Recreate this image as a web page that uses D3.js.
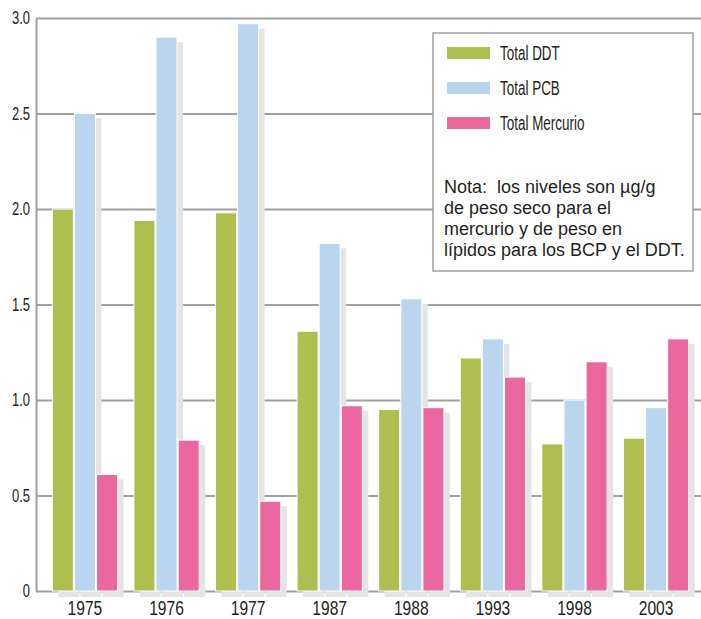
<!DOCTYPE html>
<html>
<head>
<meta charset="utf-8">
<script src="https://cdn.jsdelivr.net/npm/d3@7"></script>
<style>
  body { margin: 0; background: #fff; }
  .narrow { font-family: "Liberation Sans", Arial, sans-serif; fill: #231f20; }
  .note { font-family: "Liberation Sans", Arial, sans-serif; font-size: 18px; fill: #231f20; white-space: pre; }
</style>
</head>
<body>
<div class="canvas"></div>
<script>
const years = ['1975', '1976', '1977', '1987', '1988', '1993', '1998', '2003'];
const series = ['Total DDT', 'Total PCB', 'Total Mercurio'];
const ddt = [2.0, 1.94, 1.98, 1.36, 0.95, 1.22, 0.77, 0.80];
const pcb = [2.5, 2.9, 2.97, 1.82, 1.53, 1.32, 1.0, 0.96];
const mercurio = [0.61, 0.79, 0.47, 0.97, 0.96, 1.12, 1.2, 1.32];
const colors = ['#aebf50', '#bad5ee', '#eb67a0'];
const yTicks = [0, 0.5, 1.0, 1.5, 2.0, 2.5, 3.0];
const noteLines = [
    'Nota:  los niveles son µg/g',
    'de peso seco para el',
    'mercurio y de peso en',
    'lípidos para los BCP y el DDT.'
];

const svgWidth = 701;
const svgHeight = 619;
const margin = { top: 18, right: 0, bottom: 28, left: 36 };
const graphWidth = svgWidth - margin.left - margin.right;
const graphHeight = svgHeight - margin.top - margin.bottom;

const svg = d3.select('.canvas')
    .append('svg')
        .attr('width', svgWidth)
        .attr('height', svgHeight);

const g = svg.append('g')
    .attr('transform', `translate(${margin.left}, ${margin.top})`);

// Scales:
const x0 = d3.scaleBand().domain(years).range([0, graphWidth + 4]).paddingInner(0.2).paddingOuter(0.2);
const x1 = d3.scaleBand().domain(series).range([0, x0.bandwidth()]).paddingInner(0.05);
const y = d3.scaleLinear().domain([0, 3]).range([graphHeight, 0]);
const color = d3.scaleOrdinal().domain(series).range(colors);

// Gridlines + y axis:
const yAxis = d3.axisLeft(y)
    .tickValues(yTicks)
    .tickSize(-graphWidth)
    .tickSizeOuter(0)
    .tickFormat(d => d === 0 ? '0' : d3.format('.1f')(d));

const yAxisGroup = g.append('g').attr('class', 'y-axis').call(yAxis);
yAxisGroup.selectAll('line').attr('stroke', '#a0a0a0').attr('stroke-width', 2);
yAxisGroup.select('.domain').attr('stroke', '#a0a0a0').attr('stroke-width', 2);
yAxisGroup.selectAll('text')
    .attr('class', 'narrow')
    .attr('x', -6 / 0.72)
    .attr('transform', 'scale(0.72, 1)')
    .style('font-size', '18px');

// Bars:
const rows = years.map((yr, i) => ({ year: yr, values: [ddt[i], pcb[i], mercurio[i]] }));

const groups = g.selectAll('.group')
    .data(rows)
    .enter().append('g')
        .attr('class', 'group')
        .attr('transform', d => `translate(${x0(d.year)}, 0)`);

const cells = d => d.values.map((v, j) => ({ key: series[j], value: v }));

// shadows first
groups.selectAll('.shadow')
    .data(cells)
    .enter().append('rect')
        .attr('class', 'shadow')
        .attr('x', d => x1(d.key) + 6)
        .attr('y', d => y(d.value) + 5)
        .attr('width', x1.bandwidth())
        .attr('height', d => graphHeight - y(d.value) + 1)
        .attr('fill', '#e4e4e4');

groups.selectAll('.bar')
    .data(cells)
    .enter().append('rect')
        .attr('class', 'bar')
        .attr('x', d => x1(d.key))
        .attr('y', d => y(d.value))
        .attr('width', x1.bandwidth())
        .attr('height', d => graphHeight - y(d.value))
        .attr('fill', d => color(d.key))
        .attr('stroke', '#fff')
        .attr('stroke-width', 1);

// X axis:
const xAxis = d3.axisBottom(x0).tickSize(0);
const xAxisGroup = g.append('g')
    .attr('class', 'x-axis')
    .attr('transform', `translate(0, ${graphHeight})`)
    .call(xAxis);
xAxisGroup.select('.domain').remove();
xAxisGroup.selectAll('text')
    .attr('class', 'narrow')
    .attr('y', 24)
    .attr('dy', null)
    .attr('transform', 'scale(0.8, 1)')
    .style('font-size', '19.5px');

// Legend:
const legend = svg.append('g').attr('transform', 'translate(433, 33)');
legend.append('rect')
    .attr('width', 260)
    .attr('height', 238)
    .attr('fill', '#fff')
    .attr('stroke', '#a0a0a0')
    .attr('stroke-width', 1.5);

const items = legend.selectAll('.item')
    .data(series)
    .enter().append('g')
        .attr('class', 'item')
        .attr('transform', (d, i) => `translate(14, ${14 + i * 35})`);

items.append('rect')
    .attr('width', 43)
    .attr('height', 12)
    .attr('fill', d => color(d));

items.append('text')
    .attr('class', 'narrow')
    .attr('transform', 'translate(53, 12.5) scale(0.69, 1)')
    .style('font-size', '19.5px')
    .text(d => d);

legend.selectAll('.note')
    .data(noteLines)
    .enter().append('text')
        .attr('class', 'note')
        .attr('x', 11)
        .attr('y', (d, i) => 160 + i * 21)
        .text(d => d);
</script>
</body>
</html>
